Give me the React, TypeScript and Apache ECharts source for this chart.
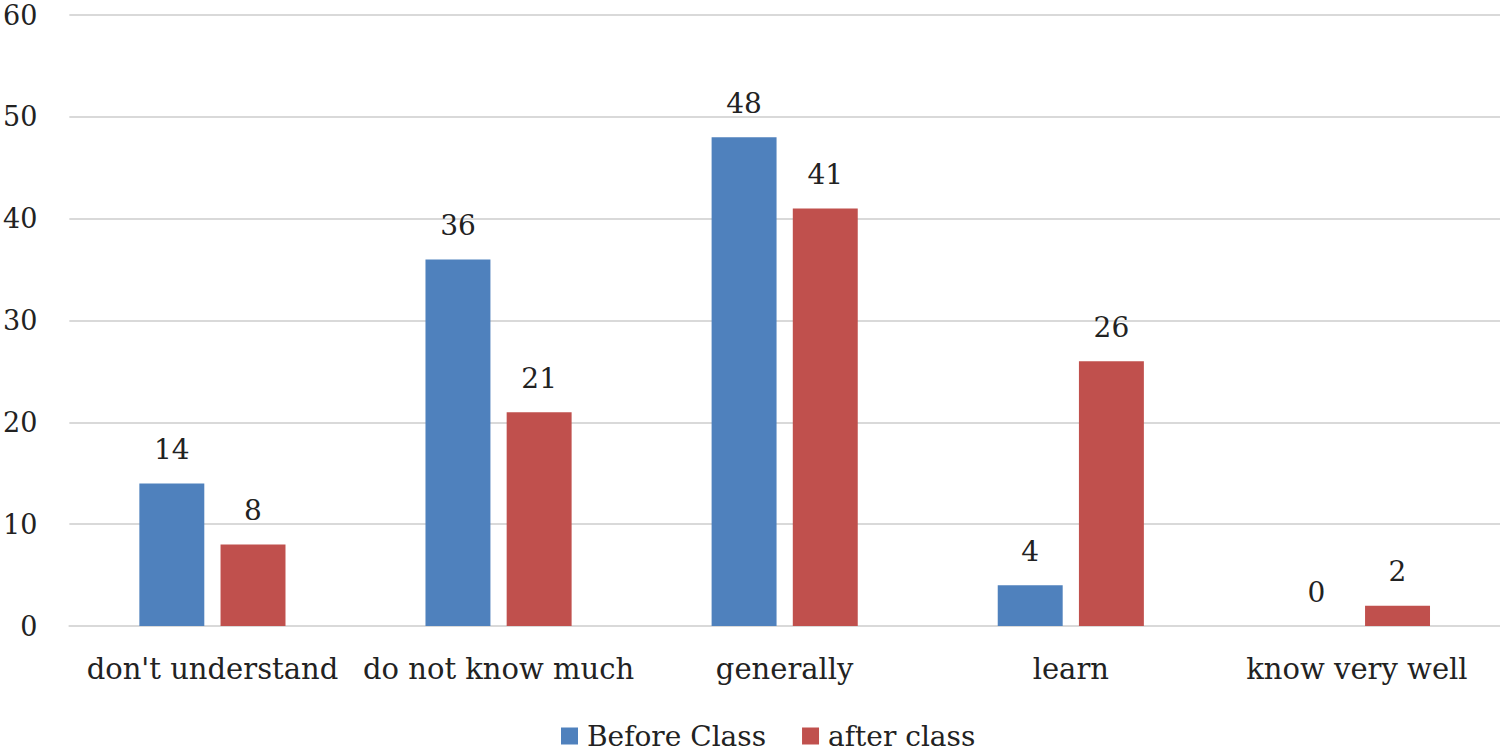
import React, { useEffect, useRef } from "react";
import * as echarts from "echarts";

const categories = ["don't understand", "do not know much", "generally", "learn", "know very well"];
const beforeClass = [14, 36, 48, 4, 0];
const afterClass = [8, 21, 41, 26, 2];
const seriesNames = ["Before Class", "after class"];

const FONT = "DejaVu Serif";
const FS = 28;

export default function App() {
  const ref = useRef<HTMLDivElement>(null);
  useEffect(() => {
    const chart = echarts.init(ref.current!, null, { renderer: "svg" });
    const labelStyle = {
      show: true,
      position: "top" as const,
      distance: 20,
      color: "#222",
      fontFamily: FONT,
      fontSize: FS,
    };
    chart.setOption({
      animation: false,
      grid: { left: 67, right: 0, top: 15, bottom: 129, containLabel: false },
      legend: {
        bottom: 0,
        left: 556,
        itemWidth: 17,
        itemHeight: 17,
        itemGap: 36,
        icon: "rect",
        textStyle: { fontFamily: FONT, fontSize: FS, color: "#222", padding: [0, 0, 0, 4] },
        data: seriesNames,
      },
      xAxis: {
        type: "category",
        data: categories,
        axisLine: { lineStyle: { color: "#d9d9d9", width: 2 } },
        axisTick: { show: false },
        axisLabel: { fontFamily: FONT, fontSize: 29, color: "#222", margin: 28, interval: 0 },
      },
      yAxis: {
        type: "value",
        min: 0,
        max: 60,
        interval: 10,
        axisLine: { show: false },
        axisTick: { show: false },
        splitLine: { lineStyle: { color: "#d9d9d9", width: 2 } },
        axisLabel: { fontFamily: FONT, fontSize: 27, color: "#222", margin: 32 },
      },
      series: [
        {
          name: seriesNames[0],
          type: "bar",
          data: beforeClass,
          barWidth: "22.7%",
          barGap: "25%",
          itemStyle: { color: "#4F81BD" },
          label: labelStyle,
        },
        {
          name: seriesNames[1],
          type: "bar",
          data: afterClass,
          barWidth: "22.7%",
          itemStyle: { color: "#C0504D" },
          label: labelStyle,
        },
      ],
    });
    return () => chart.dispose();
  }, []);
  return (
    <div style={{ position: "absolute", left: 0, top: 0 }}>
      <div ref={ref} style={{ width: 1500, height: 755 }} />
    </div>
  );
}
